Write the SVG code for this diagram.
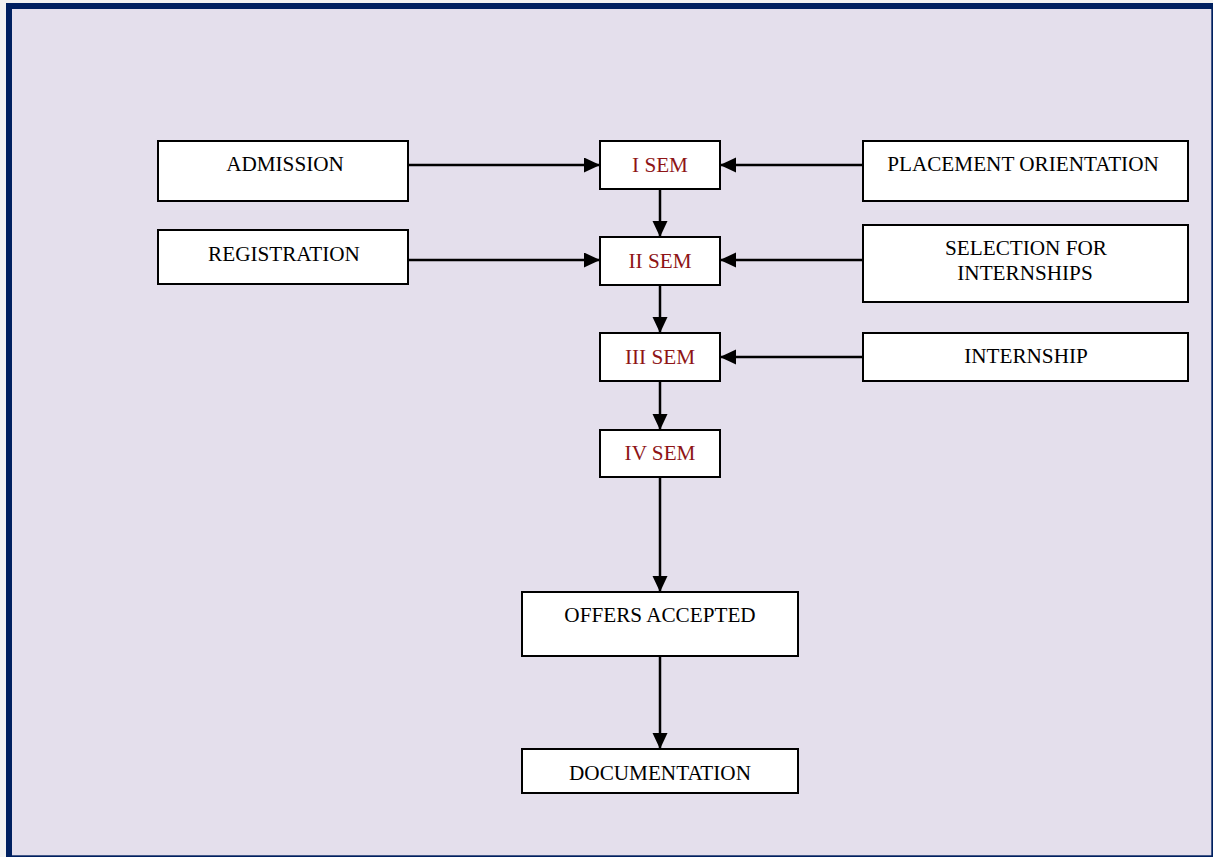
<svg xmlns="http://www.w3.org/2000/svg" width="1213" height="857" viewBox="0 0 1213 857">
<defs>
<style>
.box{fill:#ffffff;stroke:#000000;stroke-width:2}
.t{font-family:"Liberation Serif","Times New Roman",serif;font-size:21.2px;fill:#000000;text-anchor:middle}
.r{fill:#8e1416}
.c{stroke:#000000;stroke-width:2.5;fill:none;marker-end:url(#ah)}
</style>
<marker id="ah" markerUnits="userSpaceOnUse" markerWidth="17" markerHeight="16" refX="16" refY="7.5" orient="auto">
<path d="M0,0 L16,7.5 L0,15 Z" fill="#000000"/>
</marker>
</defs>
<rect x="0" y="0" width="1213" height="857" fill="#f2f2f2"/>
<rect x="9" y="6" width="1205.3" height="852.3" fill="#e4dfec" stroke="#002060" stroke-width="6"/>

<g id="connectors">
<line class="c" x1="408" y1="165" x2="600" y2="165"/>
<line class="c" x1="863" y1="165" x2="720" y2="165"/>
<line class="c" x1="408" y1="260" x2="600" y2="260"/>
<line class="c" x1="863" y1="260" x2="720" y2="260"/>
<line class="c" x1="863" y1="357" x2="720" y2="357"/>
<line class="c" x1="660" y1="189" x2="660" y2="237"/>
<line class="c" x1="660" y1="285" x2="660" y2="333"/>
<line class="c" x1="660" y1="381" x2="660" y2="430"/>
<line class="c" x1="660" y1="477" x2="660" y2="592"/>
<line class="c" x1="660" y1="656" x2="660" y2="749"/>
</g>

<g id="admission"><rect class="box" x="158" y="141" width="250" height="60"/><text class="t" x="285" y="171">ADMISSION</text></g>
<g id="registration"><rect class="box" x="158" y="230" width="250" height="54"/><text class="t" x="284" y="261">REGISTRATION</text></g>
<g id="placement"><rect class="box" x="863" y="141" width="325" height="60"/><text class="t" x="1023" y="171">PLACEMENT ORIENTATION</text></g>
<g id="selection"><rect class="box" x="863" y="225" width="325" height="77"/><text class="t" x="1026" y="255">SELECTION FOR</text><text class="t" x="1025" y="280">INTERNSHIPS</text></g>
<g id="internship"><rect class="box" x="863" y="333" width="325" height="48"/><text class="t" x="1026" y="363">INTERNSHIP</text></g>

<g id="sem1"><rect class="box" x="600" y="141" width="120" height="48"/><text class="t r" x="660" y="171.5">I SEM</text></g>
<g id="sem2"><rect class="box" x="600" y="237" width="120" height="48"/><text class="t r" x="660" y="267.5">II SEM</text></g>
<g id="sem3"><rect class="box" x="600" y="333" width="120" height="48"/><text class="t r" x="660" y="363.5">III SEM</text></g>
<g id="sem4"><rect class="box" x="600" y="430" width="120" height="47"/><text class="t r" x="660" y="460">IV SEM</text></g>

<g id="offers"><rect class="box" x="522" y="592" width="276" height="64"/><text class="t" x="660" y="622">OFFERS ACCEPTED</text></g>
<g id="documentation"><rect class="box" x="522" y="749" width="276" height="44"/><text class="t" x="660" y="780">DOCUMENTATION</text></g>
</svg>
